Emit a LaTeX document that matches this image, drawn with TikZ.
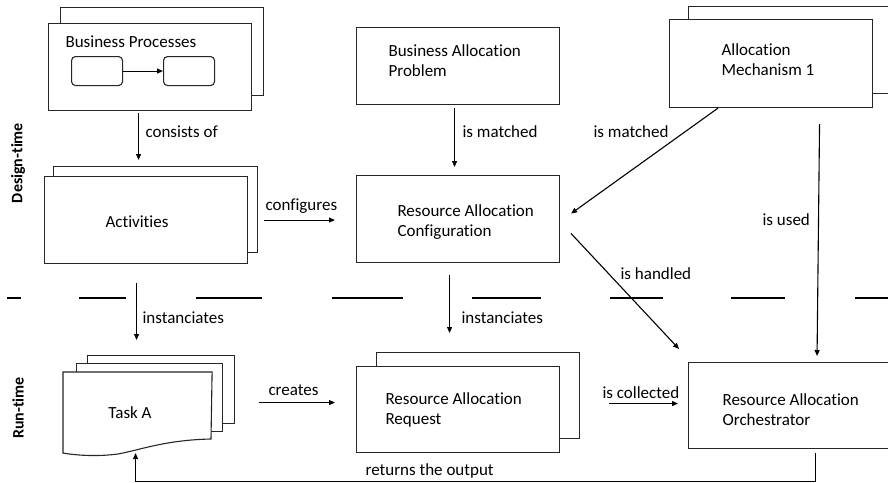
\documentclass[tikz,border=0pt]{standalone}
\usepackage{fontspec}
\setmainfont[Ligatures=NoCommon]{Carlito}
\usetikzlibrary{arrows.meta}

\begin{document}
\begin{tikzpicture}[x=1pt, y=-1pt, line width=1.1pt,
  font=\fontsize{17}{20}\selectfont,
  box/.style={draw=black!85, fill=white, rectangle, inner sep=0pt, anchor=north west},
  ghost/.style={rectangle, inner sep=0pt, anchor=north west},
  mini/.style={box, rounded corners=4pt},
  lbl/.style={inner sep=0pt, anchor=west, align=left},
  arr/.style={-{Triangle[length=6pt,width=5pt]}},
  phase/.style={inner sep=0pt, rotate=90, font=\fontsize{16}{18}\selectfont\bfseries}]

\useasboundingbox (0,0) rectangle (888,482);

% ---------- design-time ----------
\node[box, minimum width=203pt, minimum height=88pt] (bpBack) at (60,7) {};
\node[box, minimum width=203pt, minimum height=87pt] (bp) at (48,23) {};
\node[lbl] (bpText) at (65,42) {Business Processes};
\node[mini, minimum width=51pt, minimum height=29pt] (bpA) at (71,56) {};
\node[mini, minimum width=51pt, minimum height=29pt] (bpB) at (163,56) {};
\draw[arr] (bpA.east) -- (bpB.west);

\node[box, minimum width=204pt, minimum height=86pt] (actBack) at (53,166) {};
\node[box, minimum width=203pt, minimum height=87pt] (act) at (44,176) {};
\node at (137,222) {Activities};

\node[box, minimum width=203pt, minimum height=77pt] (bap) at (356,27) {};
\node[lbl] at (388,61) {Business Allocation\\Problem};

\node[box, minimum width=203pt, minimum height=87pt] (rac) at (356,175) {};
\node[lbl] at (397,222) {Resource Allocation\\Configuration};

\node[box, minimum width=215pt, minimum height=87pt] (amBack) at (688,6) {};
\node[box, minimum width=203pt, minimum height=88pt] (am) at (669,19) {};
\node[lbl] at (721,60) {Allocation\\Mechanism 1};

% ---------- phase separator ----------
\foreach \a/\b in {7/21, 79/126, 196/262, 332/403, 472/541, 610/663, 731/785, 855/890}
  \draw[line width=1.1pt] (\a,298) -- (\b,298);

% ---------- run-time ----------
\node[box, minimum width=147pt, minimum height=68pt] (taskBack2) at (87,355) {};
\node[box, minimum width=146pt, minimum height=68pt] (taskBack1) at (76,363) {};
\node[ghost, minimum width=148pt, minimum height=80pt] (task) at (63,372) {};
\draw[draw=black!85, fill=white] (task.north west) -- (task.north east) -- (211,439)
  .. controls (165,440) and (140,450) .. (118,454)
  .. controls (95,457) and (75,455) .. (task.south west) -- cycle;
\node at (130,413) {Task A};

\node[box, minimum width=203pt, minimum height=86pt] (rarBack) at (376,352) {};
\node[box, minimum width=203pt, minimum height=86pt] (rar) at (356,366) {};
\node[lbl] at (385,410) {Resource Allocation\\Request};

\node[box, minimum width=215pt, minimum height=86pt] (rao) at (688,362) {};
\node[lbl] at (722,410) {Resource Allocation\\Orchestrator};

% ---------- phase labels ----------
\node[phase] at (18,163) {Design-time};
\node[phase] at (18,408) {Run-time};

% ---------- connectors ----------
\draw[arr] ([shift={(-11.5pt,-2pt)}]bp.south) -- ([shift={(-7.5pt,16pt)}]act.north);
\node[lbl] at (145,132) {consists of};

\draw[arr] ([shift={(16pt,0pt)}]act.east) -- ([shift={(-21pt,-1pt)}]rac.west);
\node[lbl] at (265,206) {configures};

\draw[arr] ([shift={(-3.5pt,-3pt)}]bap.south) -- ([shift={(-3.5pt,8pt)}]rac.north);
\node[lbl] at (462,132) {is matched};

\draw[arr] ([shift={(49pt,0pt)}]am.south west) -- ([shift={(11pt,5.5pt)}]rac.east);
\node[lbl] at (593,132) {is matched};

\draw[arr] ([shift={(48.5pt,-16pt)}]am.south) -- ([shift={(21pt,6pt)}]rao.north);
\node[lbl] at (762,220) {is used};

\draw[arr] ([shift={(11pt,-14.5pt)}]rac.east) -- ([shift={(-9pt,13pt)}]rao.north west);
\node[lbl] at (620,274) {is handled};

\draw[arr] ([shift={(-9.5pt,-19pt)}]act.south) -- ([shift={(-24.5pt,15pt)}]taskBack2.north);
\node[lbl] at (142,318) {instanciates};

\draw[arr] ([shift={(-8.5pt,-12pt)}]rac.south) -- ([shift={(-28.5pt,19pt)}]rarBack.north);
\node[lbl] at (461,318) {instanciates};

\draw[arr] ([shift={(47pt,10pt)}]task.east) -- ([shift={(-21pt,7pt)}]rar.west);
\node[lbl] at (268,390) {creates};

\draw[arr] ([shift={(29pt,-8pt)}]rarBack.east) -- ([shift={(-10pt,2pt)}]rao.west);
\node[lbl] at (602,393) {is collected};

\draw[arr] ([shift={(19pt,-4pt)}]rao.south) -- ++(0,28) -| ([xshift=-2pt]task.south);
\node[lbl] at (365,471) {returns the output};
\end{tikzpicture}
\end{document}
